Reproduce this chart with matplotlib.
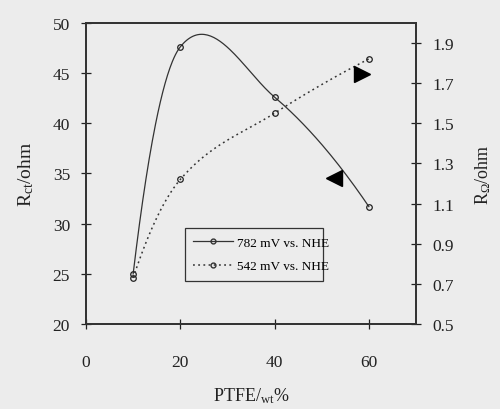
import matplotlib.pyplot as plt
import numpy as np

plt.rcParams['font.family'] = ['Liberation Serif', 'DejaVu Serif']
plt.rcParams['mathtext.default'] = 'regular'

# PTFE content (wt%)
ptfe = [10, 20, 40, 60]
# 782 mV vs. NHE, left axis (ohm)
r_782 = [25.0, 47.6, 42.6, 31.7]
# 542 mV vs. NHE, right axis (ohm)
r_542 = [0.73, 1.22, 1.55, 1.82]

labels = ['782 mV vs. NHE', '542 mV vs. NHE']
bg = '#ececec'


def smooth(x, y, n=60):
    # cubic Hermite through the points, Catmull-Rom style slopes
    x = np.asarray(x, float)
    y = np.asarray(y, float)
    d = np.diff(y) / np.diff(x)
    m = np.empty_like(y)
    m[1:-1] = (y[2:] - y[:-2]) / (x[2:] - x[:-2])
    m[0] = 2 * d[0] - m[1]
    m[-1] = 2 * d[-1] - m[-2]
    xs, ys = [], []
    for i in range(len(x) - 1):
        h = x[i + 1] - x[i]
        t = np.linspace(0, 1, n)
        h00 = 2 * t**3 - 3 * t**2 + 1
        h10 = t**3 - 2 * t**2 + t
        h01 = -2 * t**3 + 3 * t**2
        h11 = t**3 - t**2
        xs.append(x[i] + t * h)
        ys.append(h00 * y[i] + h10 * h * m[i] + h01 * y[i + 1] + h11 * h * m[i + 1])
    return np.concatenate(xs), np.concatenate(ys)


fig = plt.figure(figsize=(5, 4.1), dpi=100, facecolor=bg)
ax = fig.add_axes([0.172, 0.207, 0.66, 0.735])
ax.set_facecolor(bg)
ax2 = ax.twinx()

dots = (0, (1.2, 2.2))
x1, y1 = smooth(ptfe, r_782)
x2, y2 = smooth(ptfe, r_542)
ax.plot(x1, y1, color='#333333', lw=0.9)
ax.plot(ptfe, r_782, 'o', ms=4, mfc='none', mec='#222222', mew=0.9)
ax2.plot(x2, y2, color='#333333', lw=1.1, ls=dots)
ax2.plot(ptfe, r_542, 'o', ms=4, mfc='none', mec='#222222', mew=0.9)

# arrows showing which axis each curve belongs to
ax.plot([52.5], [34.5], marker='<', ms=12, color='black')
ax2.plot([58.5], [1.745], marker='>', ms=12, color='black')

# legend proxies
h1, = ax.plot([], [], '-o', color='#333333', lw=0.9, ms=3.5, mfc='none')
h2, = ax.plot([], [], ls=dots, marker='o', color='#333333',
              lw=1.1, ms=3.5, mfc='none')
leg = ax.legend([h1, h2], labels, loc='center',
                bbox_to_anchor=(0.279, 0.14, 0.46, 0.182), mode='expand',
                fancybox=False, edgecolor='#333333', facecolor=bg,
                framealpha=1, fontsize=9.5, handlelength=3.0,
                handletextpad=0.3, borderpad=0.65, labelspacing=0.85)
leg.get_frame().set_linewidth(0.9)

ax.set_xlim(0, 70)
ax.set_ylim(20, 50)
ax2.set_ylim(0.5, 2.0)
ax.set_xticks([0, 20, 40, 60])
ax.set_yticks([20, 25, 30, 35, 40, 45, 50])
ax2.set_yticks([0.5, 0.7, 0.9, 1.1, 1.3, 1.5, 1.7, 1.9])
ax2.set_yticklabels(['0.5', '0.7', '0.9', '1.1', '1.3', '1.5', '1.7', '1.9'])

for a in (ax, ax2):
    for s in a.spines.values():
        s.set_linewidth(1.3)
        s.set_color('#333333')
ax.tick_params(direction='inout', length=7, width=0.9, labelsize=12.5,
               colors='#222222', pad=8)
ax.tick_params(axis='x', pad=18)
ax2.tick_params(direction='inout', length=7, width=0.9, labelsize=12.5,
                colors='#222222', pad=8)

ax.set_xlabel('PTFE/$_{wt}$%', fontsize=13, labelpad=11, color='#222222')
ax.set_ylabel('R$_{ct}$/ohm', fontsize=14, color='#222222', labelpad=12)
ax2.set_ylabel(r'R$_{\Omega}$/ohm', fontsize=13, color='#222222', labelpad=14)

fig.savefig('out.png', dpi=100, facecolor=bg)
